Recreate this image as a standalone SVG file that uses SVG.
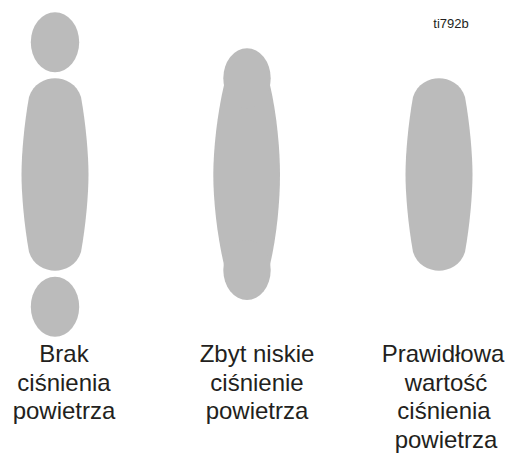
<svg xmlns="http://www.w3.org/2000/svg" width="506" height="453" viewBox="0 0 506 453">
<style>
.s{fill:#bbbbbb}
.t{font-family:"Liberation Sans",Arial,sans-serif;font-size:24px;fill:#231f20;text-anchor:middle}
.id{font-family:"Liberation Sans",Arial,sans-serif;font-size:13px;fill:#231f20;text-anchor:middle}
</style>
<defs>
<path id="body" d="M 29 97 C 33 84, 45 78.3, 55 78.3 C 65 78.3, 77 84, 81 97 C 86 125, 88.5 155, 88.5 174.5 C 88.5 194, 86 224, 81 252 C 77 265, 65 270.7, 55 270.7 C 45 270.7, 33 265, 29 252 C 24 224, 21.5 194, 21.5 174.5 C 21.5 155, 24 125, 29 97 Z"/>
</defs>
<text class="id" x="451" y="28">ti792b</text>
<g id="brak">
<ellipse class="s" cx="55" cy="42.3" rx="24.2" ry="30"/>
<use href="#body" class="s"/>
<ellipse class="s" cx="55" cy="306.7" rx="24.2" ry="30"/>
<text class="t" x="64" y="362">Brak</text>
<text class="t" x="64" y="390.5">ciśnienia</text>
<text class="t" x="64" y="419">powietrza</text>
</g>
<g id="zbyt-niskie">
<path class="s" d="M 224 85 C 217 115, 213.3 150, 213.3 175 C 213.3 200, 217 235, 224 265 L 270 265 C 277 235, 280 200, 280 175 C 280 150, 277 115, 270 85 Z"/>
<ellipse class="s" cx="247" cy="78.3" rx="23.7" ry="30"/>
<ellipse class="s" cx="247" cy="270" rx="23.7" ry="30"/>
<text class="t" x="257" y="362">Zbyt niskie</text>
<text class="t" x="257" y="390.5">ciśnienie</text>
<text class="t" x="257" y="419">powietrza</text>
</g>
<g id="prawidlowa">
<use href="#body" class="s" transform="translate(384 0)"/>
<text class="t" x="443" y="362">Prawidłowa</text>
<text class="t" x="446" y="390.5">wartość</text>
<text class="t" x="444" y="419">ciśnienia</text>
<text class="t" x="446" y="447.5">powietrza</text>
</g>
</svg>
